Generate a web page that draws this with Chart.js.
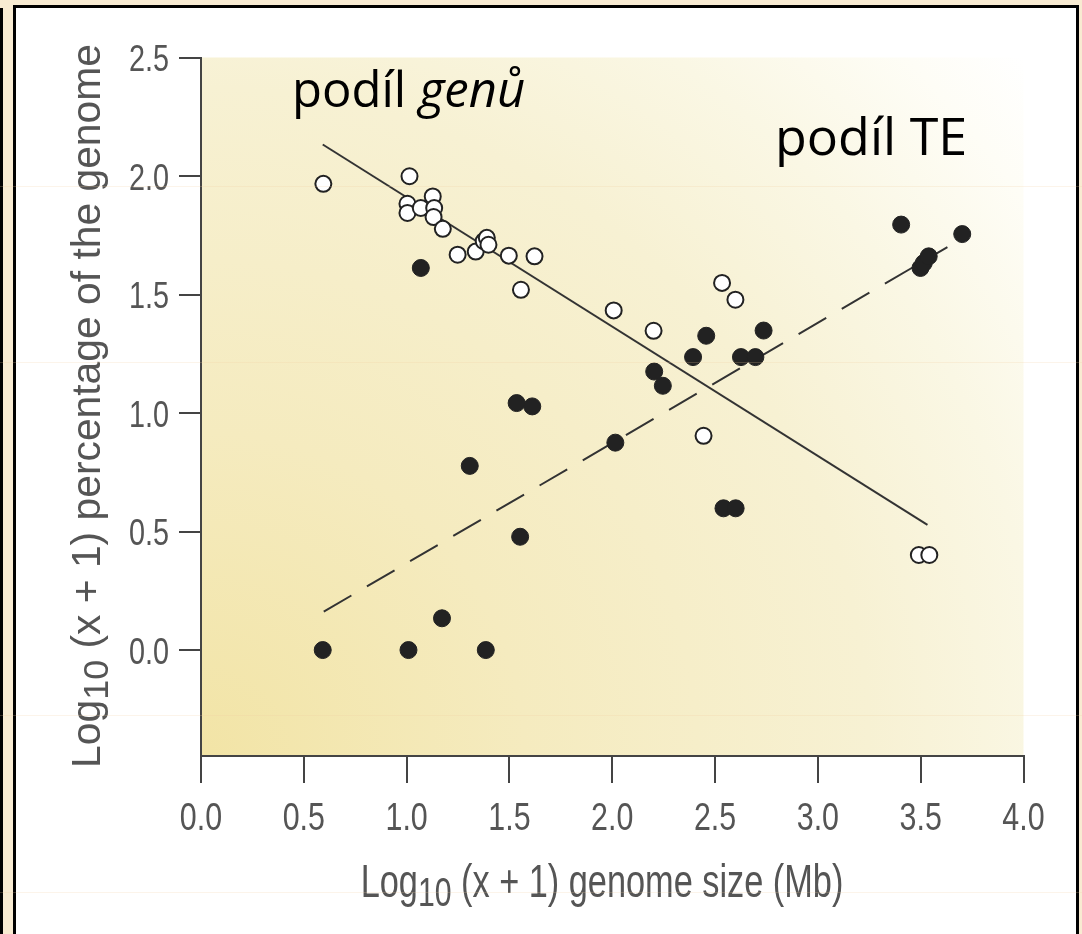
<!DOCTYPE html>
<html>
<head>
<meta charset="utf-8">
<script src="https://cdn.jsdelivr.net/npm/chart.js@4.4.1/dist/chart.umd.min.js"></script>
<style>
  html, body { margin: 0; padding: 0; }
  body { width: 1082px; height: 934px; position: relative; overflow: hidden; background: #f8ebd2; }
  #outerLine { position: absolute; left: 0; top: 8px; width: 3px; bottom: 0; background: #000; }
  #panel { position: absolute; left: 13px; top: 5px; width: 1060px; height: 960px; border: 3px solid #000; background: #fff; }
  #chart { position: absolute; left: 0; top: 0; }
  .note { position: absolute; font-family: "Open Sans", "Noto Sans", sans-serif; color: #000; line-height: 1; white-space: nowrap; }
  .axisTitle { position: absolute; font-family: "Liberation Sans", Arial, sans-serif; color: #555; text-align: center; white-space: nowrap; }
  .sub { position: relative; font-size: 0.88em; top: 0.22em; }
  .streak { position: absolute; left: 0; width: 1082px; height: 1px; background: rgba(240, 205, 160, 0.22); pointer-events: none; }
</style>
</head>
<body>
<div id="outerLine"></div>
<div id="panel"></div>
<canvas id="chart" width="1082" height="934"></canvas>

<div class="note" style="left:292px; top:64px; font-size:49px;">podíl <i>genů</i></div>
<div class="note" style="left:775px; top:109px; font-size:52px;">podíl TE</div>

<div class="axisTitle" style="left:202px; top:857px; width:800px; height:47px; line-height:47px; font-size:47px; transform:scaleX(0.73);">Log<span class="sub">10</span> (x + 1) genome size (Mb)</div>
<div class="axisTitle" style="left:-314px; top:386px; width:800px; height:40px; line-height:40px; font-size:40px; transform:rotate(-90deg) scaleX(1.02);">Log<span class="sub">10</span> (x + 1) percentage of the genome</div>

<div class="streak" style="top:186px"></div>
<div class="streak" style="top:362px"></div>
<div class="streak" style="top:715px"></div>
<div class="streak" style="top:892px"></div>

<script>
const ctx = document.getElementById("chart");

// osy
const xTicks = [0, 0.5, 1, 1.5, 2, 2.5, 3, 3.5, 4];
const yTicks = [0, 0.5, 1, 1.5, 2, 2.5];

// podil genu (prazdne kolecka)
const geneX = [0.595, 1.014, 1.004, 1.004, 1.069, 1.127, 1.134, 1.131, 1.176, 1.248, 1.336, 1.375, 1.390, 1.398,
  1.497, 1.622, 1.556, 2.007, 2.201, 2.534, 2.599, 2.444, 3.491, 3.542];
const geneY = [1.967, 1.999, 1.883, 1.844, 1.865, 1.914, 1.865, 1.827, 1.777, 1.668, 1.681, 1.725, 1.739, 1.710,
  1.664, 1.661, 1.520, 1.433, 1.347, 1.549, 1.478, 0.904, 0.401, 0.401];

// podil TE (plna kolecka)
const teX = [0.592, 1.009, 1.385, 1.172, 1.069, 1.307, 1.535, 1.611, 1.552, 2.015, 2.204, 2.246, 2.393, 2.457,
  2.626, 2.696, 2.736, 2.541, 2.600, 3.405, 3.702, 3.499, 3.515, 3.539];
const teY = [0.0, 0.0, 0.0, 0.134, 1.612, 0.777, 1.042, 1.028, 0.478, 0.875, 1.175, 1.115, 1.236, 1.326,
  1.236, 1.236, 1.348, 0.598, 0.598, 1.795, 1.755, 1.612, 1.633, 1.661];

// regresni primky
const geneFitX = [0.592, 3.533];
const geneFitY = [2.133, 0.528];
const teFitX = [0.597, 3.63];
const teFitY = [0.162, 1.70];

const toPoints = (xs, ys) => xs.map((x, i) => ({ x: x, y: ys[i] }));

const plotBackground = {
  id: "plotBackground",
  beforeDraw(chart) {
    const { ctx, chartArea: a } = chart;
    const r = Math.hypot(a.right - a.left, a.bottom - a.top);
    const g = ctx.createRadialGradient(a.left, a.bottom, 0, a.left, a.bottom, r);
    g.addColorStop(0, "#f2e4a6");
    g.addColorStop(0.3, "#f5ebbf");
    g.addColorStop(0.62, "#f7f1d3");
    g.addColorStop(0.78, "#faf7e4");
    g.addColorStop(0.92, "#fefdf6");
    g.addColorStop(1, "#ffffff");
    ctx.save();
    ctx.fillStyle = g;
    ctx.fillRect(a.left, a.top, a.right - a.left, a.bottom - a.top);
    ctx.restore();
  },
};

// popisky os - uzke pismo (Helvetica Condensed v originale)
const narrowTicks = {
  id: "narrowTicks",
  afterDraw(chart) {
    const c = chart.ctx;
    const sx = chart.scales.x;
    const sy = chart.scales.y;
    c.save();
    c.fillStyle = "#555";
    c.textBaseline = "alphabetic";

    c.font = "38px 'Liberation Sans', Arial, sans-serif";
    c.textAlign = "center";
    xTicks.forEach((v) => {
      c.save();
      c.translate(sx.getPixelForValue(v), sx.top + 74);
      c.scale(0.8, 1);
      c.fillText(v.toFixed(1), 0, 0);
      c.restore();
    });

    c.font = "36px 'Liberation Sans', Arial, sans-serif";
    c.textAlign = "right";
    yTicks.forEach((v) => {
      c.save();
      c.translate(sy.right - 32, sy.getPixelForValue(v) + 13.5);
      c.scale(0.8, 1);
      c.fillText(v.toFixed(1), 0, 0);
      c.restore();
    });
    c.restore();
  },
};

new Chart(ctx, {
  type: "scatter",
  data: {
    datasets: [
      {
        label: "TE",
        data: toPoints(teX, teY),
        pointRadius: 8.5,
        backgroundColor: "#222",
        borderColor: "#222",
        borderWidth: 1,
      },
      {
        label: "geny",
        data: toPoints(geneX, geneY),
        pointRadius: 8,
        backgroundColor: "#fff",
        borderColor: "#222",
        borderWidth: 2,
      },
      {
        label: "fit TE",
        data: toPoints(teFitX, teFitY),
        showLine: true,
        pointRadius: 0,
        borderColor: "#333",
        borderWidth: 2,
        borderDash: [32, 18],
      },
      {
        label: "fit geny",
        data: toPoints(geneFitX, geneFitY),
        showLine: true,
        pointRadius: 0,
        borderColor: "#333",
        borderWidth: 2,
      },
    ],
  },
  options: {
    responsive: false,
    animation: false,
    layout: { padding: { left: 0, top: 57.5, right: 58.5, bottom: 0 } },
    plugins: { legend: { display: false }, tooltip: { enabled: false } },
    scales: {
      x: {
        type: "linear",
        min: 0,
        max: 4,
        afterBuildTicks: (s) => { s.ticks = xTicks.map((v) => ({ value: v })); },
        afterFit: (s) => { s.height = 178; },
        grid: { drawOnChartArea: false, tickLength: 27, color: "#444", lineWidth: 2 },
        border: { display: true, color: "#444", width: 2 },
        ticks: { display: false },
      },
      y: {
        type: "linear",
        min: -0.447,
        max: 2.5,
        afterBuildTicks: (s) => { s.ticks = yTicks.map((v) => ({ value: v })); },
        afterFit: (s) => { s.width = 201; },
        grid: { drawOnChartArea: false, tickLength: 22, color: "#444", lineWidth: 2 },
        border: { display: true, color: "#444", width: 2 },
        ticks: { display: false },
      },
    },
  },
  plugins: [plotBackground, narrowTicks],
});
</script>
</body>
</html>
